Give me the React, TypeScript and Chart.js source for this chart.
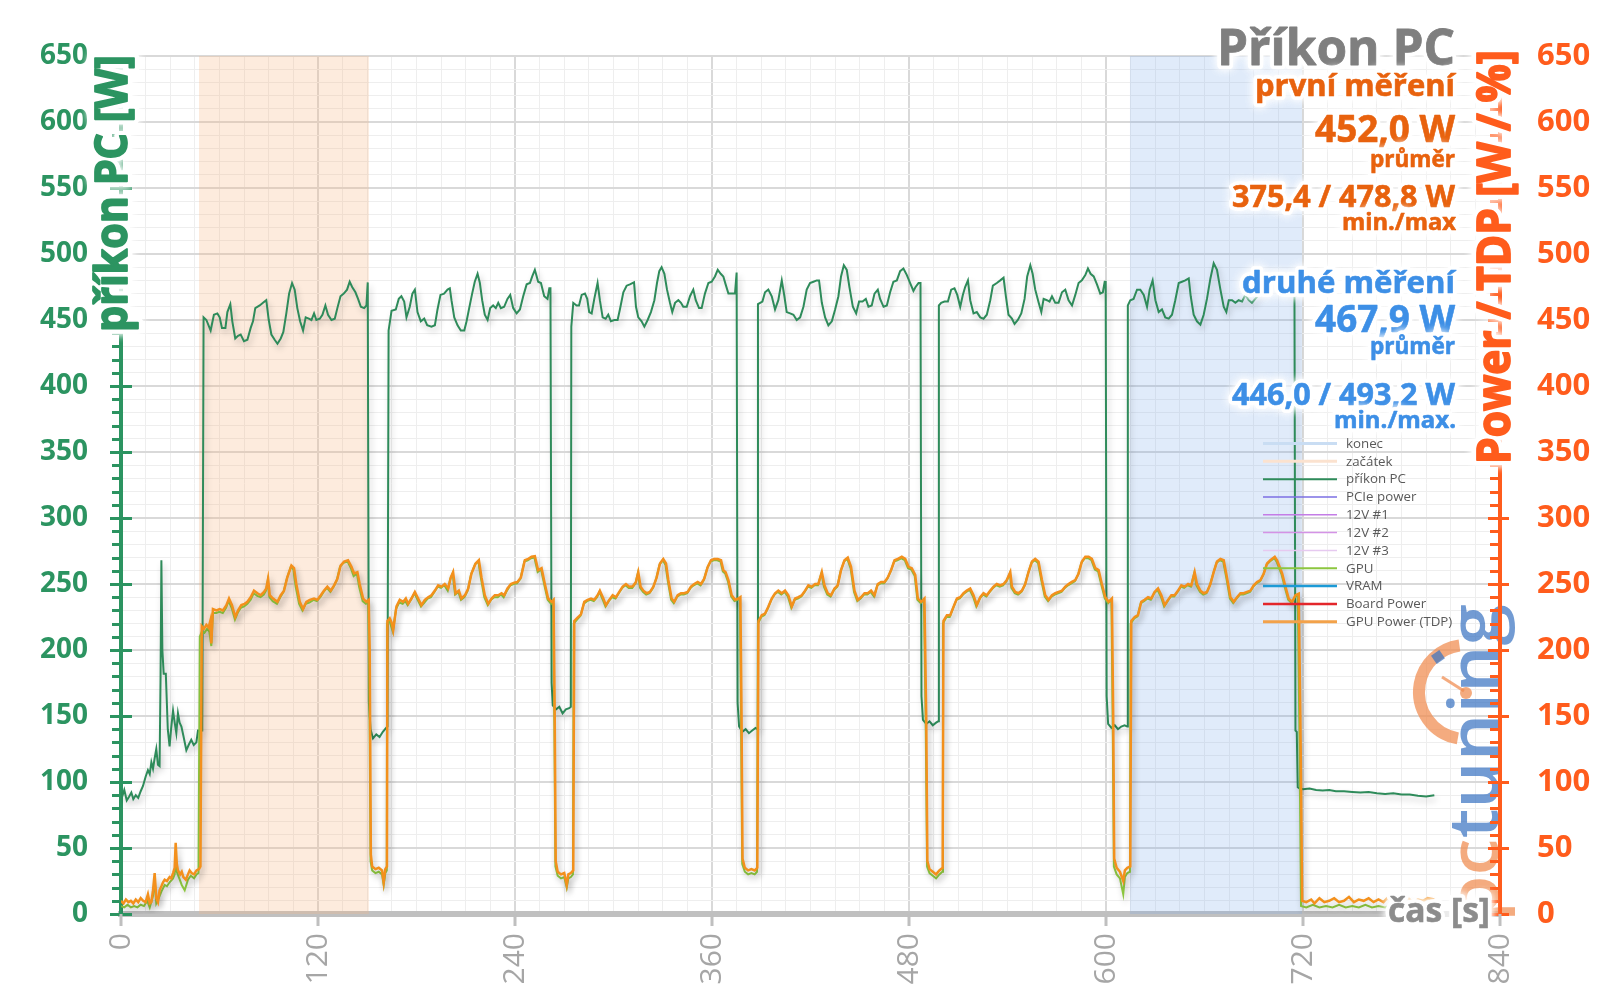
import React, { useEffect, useRef } from 'react';
import { Chart, registerables } from 'chart.js';

Chart.register(...registerables);

type Pt = [number, number];

const FONT = '"Open Sans", "Noto Sans", "DejaVu Sans", sans-serif';

// axis ranges / steps
const X_MIN = 0;
const X_MAX = 840;
const X_MAJOR = 120;
const X_MINOR = 15;
const Y_MIN = 0;
const Y_MAX = 650;
const Y_MAJOR = 50;
const Y_MINOR = 10;

// shaded measurement windows [time s, top]
const zacatek: Pt[] = [[47.5, 650], [151, 650]];
const konec: Pt[] = [[614.5, 650], [719.5, 650]];

// příkon PC [W] (time s, W)
const prikonPC: Pt[] = [
  [0, 92], [1, 90], [2, 94], [3.5, 86], [5, 89], [6.3, 92], [7.5, 87], [9, 90], [10.5, 88], [12, 93],
  [13.4, 97], [15, 104], [16.4, 109], [17.5, 106], [18.5, 115], [19.5, 110], [20.5, 118], [21.5, 125],
  [22.5, 113], [23.5, 112], [24.1, 180], [24.6, 268], [25.2, 200], [26, 182], [27.3, 182], [28.5, 140],
  [29.6, 127], [30.5, 140], [31.7, 154], [32.7, 145], [33.7, 137], [34.7, 152], [35.7, 145], [36.8, 142],
  [38, 135], [39.8, 124], [41.2, 128], [42.8, 132], [44.3, 128], [45.9, 130], [46.9, 139], [49.5, 139],
  [50.3, 452], [52, 450], [54.6, 442], [56.6, 454], [58.7, 455], [60.1, 452], [61.5, 444], [63.6, 444],
  [64.8, 456], [66.6, 462], [67.8, 449], [69.6, 436], [71.3, 438], [72.9, 439], [74.9, 434], [77, 435],
  [79, 444], [80.4, 449], [81.8, 459], [84.5, 461], [86.5, 463], [88.5, 465], [90, 450], [91.6, 439],
  [93.6, 435], [95.3, 432], [97.3, 436], [98.9, 441], [100.7, 455], [102.4, 470], [104.2, 478], [105.8, 473],
  [107.4, 459], [109.1, 449], [110.9, 442], [112.5, 452], [114.4, 451], [116, 450], [117.6, 455], [119, 450],
  [121.1, 451], [122.7, 454], [124.5, 461], [126.1, 454], [128.2, 450], [130.2, 451], [131.8, 459], [133.7, 468],
  [135.7, 470], [137.7, 473], [139.3, 479], [140.8, 475], [142.8, 471], [144.4, 466], [146.1, 460], [148.1, 459],
  [149.5, 461], [150.3, 478.5],
  [151, 160], [152, 140], [153.5, 133], [155.5, 136], [157.5, 134], [159.5, 138], [161.5, 141], [162.3, 142],
  [163, 442], [164.8, 457], [167.4, 458], [169.2, 466], [170.8, 468], [172.5, 464], [173.9, 452], [175.9, 460],
  [177.5, 470], [179, 473], [180.6, 456], [182.6, 449], [184.7, 451], [186.5, 446], [189.1, 445], [191.2, 446],
  [192.8, 458], [194.6, 469], [196.8, 470], [198.9, 473], [200.3, 474], [201.3, 465], [203, 452], [205, 446],
  [207, 442], [209.1, 442], [210.5, 449], [212.1, 459], [213.9, 470], [215.5, 479], [217.2, 485], [218.6, 478],
  [220, 465], [221.6, 454], [223.3, 450], [224.9, 459], [226.7, 461], [228.3, 459], [229.8, 463], [231.4, 459],
  [233.4, 460], [235.4, 466], [237.1, 469], [238.9, 459], [241, 455], [243, 458], [245, 468], [247.1, 477],
  [249.1, 478], [250.5, 483], [252.1, 488], [254.1, 479], [255.8, 478], [257.8, 468], [259.8, 466], [260.9, 474],
  [261.6, 474],
  [262.3, 175], [263, 158], [265, 155], [267, 157], [269, 152], [271, 155], [273, 156], [274, 157],
  [274.3, 445], [275.5, 463], [277.5, 461], [279, 461], [280.6, 469], [282.6, 470], [284, 466], [285.2, 456],
  [286.7, 455], [288.3, 466], [290.3, 478], [291.7, 465], [293.4, 452], [295.2, 451], [296.8, 454], [298.4, 449],
  [300.5, 450], [302.5, 450], [303.9, 458], [306, 471], [308, 476], [310, 477], [312.5, 478.5], [313.7, 460],
  [315.1, 452], [317.1, 449], [318.8, 445], [320.8, 450], [322.8, 456], [324.9, 465], [326.5, 478], [327.9, 487],
  [329.3, 490], [331, 485], [332.6, 473], [334.4, 463], [335.8, 456], [337.5, 463], [339.5, 465], [341.1, 463],
  [342.5, 460], [344.6, 460], [346.6, 468], [348.6, 473], [350.1, 465], [352.1, 459], [353.7, 459], [355.7, 470],
  [357.8, 478], [359.8, 479], [361.8, 483], [363.5, 488], [365.3, 485], [366.9, 483], [368.3, 477], [370, 470],
  [372, 470], [374, 470], [375, 486],
  [375.6, 160], [376.5, 142], [378.5, 138], [380.5, 140], [382.5, 137], [384.5, 139], [386.5, 141], [387.7, 140],
  [388, 462], [390.7, 464], [392.3, 471], [394.3, 473], [396.4, 468], [398.4, 458], [400.4, 465], [402.5, 480],
  [404.1, 468], [405.5, 456], [407.6, 455], [409.6, 454], [411.6, 450], [413.7, 452], [415.7, 460], [417.7, 473],
  [419.7, 478], [421.8, 479], [423.8, 480], [425.2, 480], [426.9, 463], [428.9, 452], [430.9, 446], [433, 449],
  [435, 458], [437, 468], [438.6, 483], [440.3, 491.5], [442.1, 488], [443.7, 475], [445.8, 460], [447.8, 455],
  [449.6, 464], [451.7, 464], [453.7, 466], [455.3, 460], [457.3, 461], [459, 470], [461, 473], [462.4, 466],
  [464.5, 460], [466.5, 461], [468.5, 471], [470.5, 479], [472.6, 480], [474.6, 487], [476.6, 489], [478.7, 484],
  [480.7, 478], [482.7, 472], [484, 475], [485.8, 478], [487, 478],
  [487.6, 165], [488.5, 147], [490.5, 144], [492.5, 146], [494.5, 143], [496.5, 145], [497.8, 146],
  [498.2, 461], [499.6, 463], [501.6, 464], [503.7, 464], [505.7, 473], [507.7, 474], [509.4, 469], [511.2, 460],
  [512.8, 469], [514.2, 475], [515.9, 480], [517.3, 465], [519.3, 455], [521.3, 456], [523.4, 452], [525.4, 451],
  [527.4, 454], [529.5, 465], [531.1, 476], [533.5, 478], [535.6, 480], [537.6, 482], [539, 468], [540.6, 454],
  [542.7, 451], [544.3, 447], [546.3, 450], [548.4, 455], [550.4, 466], [552, 483], [553.9, 491.5], [555.3, 485],
  [556.9, 473], [559, 463], [560.6, 456], [562, 466], [564, 465], [565.6, 464], [567.1, 468], [569.1, 463],
  [571.1, 463], [573.2, 471], [575.2, 473], [577.2, 465], [579.3, 461], [581.3, 469], [583.3, 478], [585.3, 480],
  [587.4, 484], [589, 489], [590.6, 485], [592.5, 483], [594.5, 477], [596.5, 470], [598.1, 471], [599.2, 479],
  [599.8, 479],
  [600.4, 165], [601.3, 144], [603.3, 141], [605.3, 143], [607.3, 140], [609.3, 142], [611.3, 143], [613, 142],
  [613.3, 461], [614.8, 465], [616.8, 466], [618.9, 473], [620.9, 473], [623, 469], [625, 460], [626.6, 473],
  [628.4, 480], [630.1, 465], [632.1, 456], [634.1, 458], [636.1, 452], [638.2, 451], [640.2, 454], [642.2, 465],
  [644.3, 478], [646.3, 479], [648.3, 480], [650.4, 481.5], [651.6, 468], [653.4, 454], [655.4, 449], [657.5, 446.5],
  [659.5, 454], [661.5, 466], [663.6, 481.5], [665.6, 493], [667.6, 488], [669.7, 473], [671.7, 460], [673.3, 456],
  [674.8, 465], [676.8, 465], [678.8, 463], [680.8, 465], [682.9, 464], [684.9, 469], [686.9, 465], [688.9, 463],
  [690.9, 466], [692.3, 468], [694, 474], [697, 479], [700, 483], [703, 484], [706, 479], [709, 474], [712, 471],
  [714.8, 470],
  [715.4, 139], [716.2, 138], [716.8, 96], [718, 95], [720, 94.5], [724, 95], [728, 94], [732, 93.5], [736, 94],
  [740, 93], [745, 93], [750, 92.5], [755, 92], [760, 92.5], [765, 91.5], [770, 91], [775, 91.5], [780, 90.5],
  [785, 90.5], [790, 89.5], [795, 89], [800, 90],
];

// GPU Power (TDP) [W] (time s, W)
const gpuPowerTDP: Pt[] = [
  [0, 10], [1.5, 8], [3, 11], [4.5, 9], [6, 10], [7.5, 8], [9, 11], [10.5, 9], [12, 12], [13.5, 10], [15, 9],
  [16.4, 15], [17.5, 8], [18.5, 9], [19.5, 18], [20.5, 31], [21.5, 12], [22.5, 9], [23.5, 18], [24.6, 21],
  [25.6, 24], [26.6, 26], [28, 25], [29.6, 28], [30.6, 27], [31.7, 31], [32.7, 35], [33.3, 54], [34, 38],
  [34.7, 33], [36, 30], [37, 32], [38, 28], [39.5, 26], [40.8, 30], [41.8, 33], [43, 31], [44.5, 30], [46, 33],
  [47.5, 34], [48.4, 36],
  [49.2, 218], [50.5, 216], [52, 219], [53.4, 217], [54.4, 222], [55, 205], [56, 231], [58.1, 230], [60.1, 231],
  [62.1, 230], [64.2, 234], [65.8, 239], [67.6, 234], [69.6, 225], [71.3, 230], [73.3, 234], [75.3, 235],
  [77, 236.5], [79, 240], [81, 245], [83.1, 243], [85.1, 241.5], [87.1, 244], [88.5, 246.6], [89.6, 254],
  [90.6, 241.5], [92.6, 239], [95.3, 236.5], [97.3, 241.5], [99.3, 245], [101.3, 255], [103.8, 264], [105.4, 262],
  [106.8, 250], [108.9, 236.5], [110.9, 231], [112.9, 236.5], [115, 238], [117.6, 239], [119.6, 238], [121.7, 241.5],
  [123.7, 245], [125.7, 248], [127.8, 245], [129.8, 249], [131.8, 254], [133.8, 264], [135.9, 267], [138.3, 268],
  [140.4, 263], [142, 258], [144, 259], [145.4, 250], [147.5, 239], [149.5, 236.5], [150.9, 238], [151.5, 200],
  [152.2, 45], [153, 36], [155, 34], [157, 35], [159, 33], [160, 24], [161, 34], [162, 36],
  [162.3, 222], [163.7, 224], [164.8, 221], [165.8, 215], [167.8, 233], [169.8, 238], [171.9, 236.5], [173.5, 239],
  [174.9, 235], [176.9, 239], [179, 244], [181, 239], [183, 234], [185.1, 238], [187.1, 240], [189.1, 241.5],
  [191.2, 245], [193.2, 249], [195.2, 248], [197.2, 250], [199.3, 246.6], [200.9, 255], [202.3, 259], [203.8, 243],
  [205.8, 245], [207.4, 239], [209.5, 241.5], [211.5, 246.6], [213.5, 258], [216, 265.5], [218, 268], [219.6, 255],
  [221.6, 241.5], [223.7, 235], [225.7, 239], [227.7, 241.5], [229.8, 241.5], [231.8, 243], [233.4, 241.5],
  [235.4, 246.6], [237.5, 250], [239.5, 251], [241.5, 251.6], [243.6, 255], [246, 268], [248.1, 269], [250.1, 270.6],
  [252.1, 271], [254.1, 260.5], [256.2, 262], [258.2, 250], [260.2, 239], [262.3, 236.5], [263.5, 238], [264.2, 150],
  [264.8, 40], [266, 32], [268, 30], [270, 31], [271.5, 22], [272.5, 30], [274, 31], [275.5, 33],
  [276.1, 222], [278.1, 224.6], [280.2, 227], [282.2, 236.5], [284.2, 238], [286.3, 239], [288.3, 238], [290.3, 241.5],
  [291.7, 245], [293.8, 239], [295.4, 234], [297.4, 238], [299.5, 241.5], [301.5, 240], [303.5, 244], [305.6, 248],
  [307.6, 250], [309.6, 248], [311.7, 248.3], [313.7, 251.6], [315.1, 259], [316.5, 248], [318.2, 245], [320.2, 243],
  [322.2, 244], [324.3, 248], [326.3, 255], [328.3, 265.5], [330.3, 269], [332, 265.5], [333.4, 253], [335.4, 239],
  [337, 236.5], [339.1, 241.5], [341.1, 243], [343.1, 243], [345.2, 244], [347.2, 248], [349.2, 250], [351.3, 251.6],
  [353.3, 250], [355.3, 254], [357.4, 263], [359.4, 268], [361.4, 269], [363.5, 269], [365.5, 268], [366.9, 260.5],
  [368.3, 259], [370, 253], [372, 241.5], [374, 238], [376.1, 239], [377.3, 240], [378, 150],
  [378.6, 42], [380, 35], [382, 33], [384, 34], [386, 33], [387.6, 35],
  [388.3, 222], [390.3, 226.4], [392.3, 227.6], [394.3, 232.7], [396.4, 239], [398.4, 243], [400.4, 245], [402.5, 243],
  [404.5, 245], [406.5, 241.5], [408.6, 233], [410.6, 239], [412.6, 240], [414.7, 241.5], [416.7, 245], [418.7, 249],
  [420.8, 248], [422.8, 250], [424.8, 250], [426.9, 259], [428.5, 249], [430.5, 243], [432.5, 241.5], [434.6, 246.6],
  [436.6, 249], [438.6, 260.5], [440.7, 268], [442.7, 270], [444.7, 263], [446.8, 245], [448.8, 238], [450.8, 240],
  [452.9, 243], [454.9, 243], [456.9, 245], [459, 241.5], [461, 250], [463, 251.6], [465.1, 251.6], [467.1, 255],
  [469.1, 260.5], [471.2, 268], [473.2, 269], [475.6, 270.6], [477.7, 269], [479.7, 263], [481.7, 262], [483.8, 257],
  [485.4, 239], [487.4, 236.5], [489.4, 239], [490.5, 150],
  [491.2, 40], [492.5, 34], [494.5, 32], [496.5, 30], [498.5, 33], [500.5, 35],
  [501, 222], [503.1, 226.4], [505.1, 226.4], [507.1, 232.7], [509.2, 239], [511.2, 240], [513.2, 243], [515.2, 245],
  [517.3, 246.6], [519.3, 241.5], [521.3, 234], [523.4, 240], [525.4, 243], [527.4, 241.5], [529.5, 245], [531.5, 248],
  [533.5, 250], [535.6, 249], [537.6, 250], [539.6, 253], [541.7, 259], [542.7, 248], [544.7, 244], [546.7, 243],
  [548.8, 245], [550.8, 250], [552.8, 259], [554.9, 267], [556.9, 269], [558.9, 267], [561, 253], [563, 241.5],
  [565, 238], [567.1, 241.5], [569.1, 243], [571.1, 244], [573.2, 245], [575.2, 248], [577.2, 250], [579.2, 251.6],
  [581.3, 253], [583.3, 258], [585.3, 267], [587.4, 270.6], [589.4, 270.6], [591.4, 269], [593.5, 262], [595.5, 260.5],
  [597.5, 250], [599.6, 240], [601.6, 236.5], [603.6, 239], [604.4, 150],
  [605, 42], [606.5, 35], [608.5, 32], [610.5, 25], [611.5, 33], [613, 35], [614.8, 36],
  [615.4, 222], [617.5, 225], [619.5, 226.4], [621.5, 236.5], [623.5, 238], [625.6, 240], [627.6, 239], [629.6, 244],
  [631.7, 246.6], [633.7, 241.5], [635.7, 234], [637.8, 238], [639.8, 241.5], [641.8, 241.5], [643.9, 245], [645.9, 249],
  [647.9, 248], [650, 250], [652, 249], [654, 259], [655.4, 250], [657.5, 245], [659.5, 243], [661.5, 244],
  [663.6, 250], [665.6, 259], [667.6, 267], [669.7, 269], [671.7, 268], [673.7, 255], [675.8, 240], [677.8, 236.5],
  [679.8, 240], [681.9, 243], [683.9, 243], [685.9, 244], [688, 245], [690, 249], [692, 251.6], [694.1, 253],
  [696.1, 258], [698.1, 265.5], [700.1, 268], [702.8, 270.6], [704.2, 268], [707.3, 258], [709.3, 248], [711.3, 239],
  [713.4, 236.4], [715.4, 241.5], [717.4, 242.7], [718.4, 150],
  [719.5, 10], [722, 9], [725, 11], [727, 8], [730, 12], [733, 9], [736, 10], [739, 12], [742, 9], [745, 10],
  [748, 13], [751, 9], [754, 11], [757, 10], [760, 12], [763, 9], [766, 11], [769, 9], [772, 13], [775, 10],
  [778, 9], [781, 11], [784, 12], [787, 9], [790, 11], [793, 10], [796, 12], [800, 11],
];

// GPU [W] (time s, W)
const gpuLine: Pt[] = [
  [0, 6], [2, 5], [4, 7], [6, 5], [8, 6], [10, 5], [12, 7], [14, 6], [16, 10], [17.5, 5], [19.5, 14], [20.5, 26],
  [21.5, 8], [23, 12], [24.6, 17], [26.6, 22], [28, 21], [29.6, 24], [31.7, 27], [32.7, 30], [33.3, 45], [34, 32],
  [35.5, 27], [37, 22], [38.8, 18], [40.8, 26], [42.5, 29], [44.5, 27], [46, 30], [47.2, 31],
  [48, 210], [49.2, 214], [50.8, 213], [52.4, 216], [53.8, 214], [55, 203], [56, 228], [58, 228], [60, 229], [62, 228],
  [64, 232], [65.5, 237], [67.4, 232], [69.4, 223], [71, 228], [73, 232], [75, 233], [77, 235], [79, 238], [80.8, 243],
  [83, 241], [85, 240], [87, 242], [88.3, 245], [89.3, 252], [90.4, 240], [92.4, 237], [95, 235], [97, 240], [99, 244],
  [101, 254], [103.4, 263], [105, 261], [106.4, 248], [108.5, 235], [110.5, 230], [112.5, 235], [114.7, 236],
  [117.3, 238], [119.3, 237], [121.4, 240], [123.4, 244], [125.4, 247], [127.5, 244], [129.5, 248], [131.5, 253],
  [133.4, 263], [135.5, 266], [138, 267], [140, 262], [141.7, 256], [143.7, 258], [145, 248], [147.2, 237],
  [149.2, 235], [150.6, 236], [151.2, 190],
  [152, 40], [153, 33], [155, 31], [157, 32], [159, 30], [160, 22], [161, 31], [161.9, 33],
  [162.1, 220], [163.5, 222], [165.6, 214], [167.5, 231], [169.5, 236], [171.6, 235], [173.2, 237], [174.6, 234],
  [176.6, 238], [178.7, 243], [180.7, 238], [182.7, 233], [184.8, 236], [186.8, 239], [188.8, 240], [190.9, 244],
  [192.9, 248], [194.9, 247], [196.9, 249], [199, 245], [200.6, 254], [202, 258], [203.5, 242], [205.5, 244],
  [207.1, 238], [209.2, 240], [211.2, 245], [213.2, 257], [215.7, 265], [217.7, 267], [219.3, 254], [221.3, 240],
  [223.4, 234], [225.4, 238], [227.4, 240], [229.5, 240], [231.5, 242], [233.1, 240], [235.1, 245], [237.2, 249],
  [239.2, 250], [241.2, 250.5], [243.3, 254], [245.7, 267], [247.8, 268], [249.8, 269.5], [251.8, 270], [253.8, 259],
  [255.9, 261], [257.9, 249], [259.9, 238], [262, 235], [263.2, 237], [264, 140],
  [264.6, 36], [266, 29], [268, 27], [270, 28], [271.5, 20], [272.5, 27], [274, 28], [275.3, 30],
  [275.8, 220], [277.8, 223], [279.9, 226], [281.9, 235], [283.9, 237], [286, 238], [288, 237], [290, 240],
  [291.4, 244], [293.5, 238], [295.1, 233], [297.1, 237], [299.2, 240], [301.2, 239], [303.2, 243], [305.3, 247],
  [307.3, 249], [309.3, 247], [311.4, 247], [313.4, 250.5], [314.8, 258], [316.2, 247], [317.9, 244], [319.9, 242],
  [321.9, 243], [324, 247], [326, 254], [328, 264.5], [330, 268], [331.7, 264.5], [333.1, 252], [335.1, 238],
  [336.7, 235.5], [338.8, 240.5], [340.8, 242], [342.8, 242], [344.9, 243], [346.9, 247], [348.9, 249], [351, 250.5],
  [353, 249], [355, 253], [357.1, 262], [359.1, 267], [361.1, 268], [363.2, 268], [365.2, 267], [366.6, 259.5],
  [368, 258], [369.7, 252], [371.7, 240.5], [373.7, 237], [375.8, 238], [377, 239], [377.7, 140],
  [378.4, 38], [380, 32], [382, 30], [384, 31], [386, 30], [387.4, 32],
  [388, 220], [390, 225], [392, 226.5], [394, 231.5], [396.1, 238], [398.1, 242], [400.1, 244], [402.2, 242],
  [404.2, 244], [406.2, 240.5], [408.3, 232], [410.3, 238], [412.3, 239], [414.4, 240.5], [416.4, 244], [418.4, 248],
  [420.5, 247], [422.5, 249], [424.5, 249], [426.6, 258], [428.2, 248], [430.2, 242], [432.2, 240.5], [434.3, 245.5],
  [436.3, 248], [438.3, 259.5], [440.4, 267], [442.4, 269], [444.4, 262], [446.5, 244], [448.5, 237], [450.5, 239],
  [452.6, 242], [454.6, 242], [456.6, 244], [458.7, 240.5], [460.7, 249], [462.7, 250.5], [464.8, 250.5], [466.8, 254],
  [468.8, 259.5], [470.9, 267], [472.9, 268], [475.3, 269.5], [477.4, 268], [479.4, 262], [481.4, 261], [483.5, 256],
  [485.1, 238], [487.1, 235.5], [489.1, 238], [490.2, 140],
  [491, 36], [492.5, 31], [494.5, 29], [496.5, 27], [498.5, 30], [500.3, 32],
  [500.7, 220], [502.8, 225], [504.8, 225], [506.8, 231.5], [508.9, 238], [510.9, 239], [512.9, 242], [514.9, 244],
  [517, 245.5], [519, 240.5], [521, 233], [523.1, 239], [525.1, 242], [527.1, 240.5], [529.2, 244], [531.2, 247],
  [533.2, 249], [535.3, 248], [537.3, 249], [539.3, 252], [541.4, 258], [542.4, 247], [544.4, 243], [546.4, 242],
  [548.5, 244], [550.5, 249], [552.5, 258], [554.6, 266], [556.6, 268], [558.6, 266], [560.7, 252], [562.7, 240.5],
  [564.7, 237], [566.8, 240.5], [568.8, 242], [570.8, 243], [572.9, 244], [574.9, 247], [576.9, 249], [578.9, 250.5],
  [581, 252], [583, 257], [585, 266], [587.1, 269.5], [589.1, 269.5], [591.1, 268], [593.2, 261], [595.2, 259.5],
  [597.2, 249], [599.3, 239], [601.3, 235.5], [603.3, 238], [604.1, 140],
  [604.8, 36], [606.5, 30], [608.5, 27], [610.5, 15], [611.5, 28], [613, 31], [614.6, 32],
  [615, 220], [617.2, 224], [619.2, 225.5], [621.2, 235.5], [623.2, 237], [625.3, 239], [627.3, 238], [629.3, 243],
  [631.4, 245.5], [633.4, 240.5], [635.4, 233], [637.5, 237], [639.5, 240.5], [641.5, 240.5], [643.6, 244], [645.6, 248],
  [647.6, 247], [649.7, 249], [651.7, 248], [653.7, 258], [655.1, 249], [657.2, 244], [659.2, 242], [661.2, 243],
  [663.3, 249], [665.3, 258], [667.3, 266], [669.4, 268], [671.4, 267], [673.4, 254], [675.5, 239], [677.5, 235.5],
  [679.5, 239], [681.6, 242], [683.6, 242], [685.6, 243], [687.7, 244], [689.7, 248], [691.7, 250.5], [693.8, 252],
  [695.8, 257], [697.8, 264.5], [699.8, 267], [702.5, 269.5], [703.9, 267], [707, 257], [709, 247], [711, 238],
  [713.1, 235.5], [715.1, 240.5], [716.8, 241], [717.8, 140],
  [718.8, 6], [722, 5], [726, 7], [730, 5], [734, 6], [738, 5], [742, 7], [746, 5], [750, 6], [754, 5], [758, 7],
  [762, 5], [766, 6], [770, 5], [774, 7], [778, 5], [782, 6], [786, 5], [790, 7], [794, 5], [800, 6],
];

const emptySeries: Pt[] = [];

// texts
const chartTitle = 'Příkon PC';
const firstMeasurement = ['první měření', '452,0 W', 'průměr', '375,4 / 478,8 W', 'min./max'];
const secondMeasurement = ['druhé měření', '467,9 W', 'průměr', '446,0 / 493,2 W', 'min./max.'];
const leftAxisTitle = 'příkon PC [W]';
const rightAxisTitle = 'Power / TDP [W / %]';
const xAxisTitle = 'čas [s]';

const GREEN = '#2e8b5a';
const GREEN_AXIS = '#2c9461';
const ORANGE_TEXT = '#e8620e';
const RIGHT_AXIS = '#ff5c1c';
const BLUE_TEXT = '#3d8fe6';

const toXY = (a: Pt[]) => a.map(([x, y]) => ({ x, y }));

function fitFont(ctx: CanvasRenderingContext2D, text: string, weight: string, targetW: number) {
  ctx.font = `${weight} 100px ${FONT}`;
  const w = ctx.measureText(text).width || 1;
  const size = (100 * targetW) / w;
  return `${weight} ${size.toFixed(2)}px ${FONT}`;
}

function glowText(
  ctx: CanvasRenderingContext2D,
  text: string,
  x: number,
  y: number,
  targetW: number,
  color: string,
  align: CanvasTextAlign = 'right',
  weight = 'bold',
  glow = 7,
  embolden = 0,
) {
  ctx.save();
  ctx.font = fitFont(ctx, text, weight, targetW);
  ctx.textAlign = align;
  ctx.textBaseline = 'alphabetic';
  ctx.lineJoin = 'round';
  if (glow > 0) {
    ctx.strokeStyle = 'rgba(255,255,255,0.95)';
    ctx.lineWidth = glow + embolden;
    ctx.shadowColor = 'rgba(255,255,255,1)';
    ctx.shadowBlur = 8;
    ctx.strokeText(text, x, y);
    ctx.strokeText(text, x, y);
  }
  ctx.shadowBlur = 0;
  ctx.shadowColor = 'transparent';
  ctx.fillStyle = color;
  ctx.fillText(text, x, y);
  if (embolden > 0) {
    ctx.strokeStyle = color;
    ctx.lineWidth = embolden;
    ctx.strokeText(text, x, y);
  }
  ctx.restore();
}

function rotatedText(
  ctx: CanvasRenderingContext2D,
  text: string,
  baseX: number,
  startY: number,
  len: number,
  color: string,
  thick = 1,
) {
  ctx.save();
  ctx.translate(baseX, startY);
  ctx.rotate(-Math.PI / 2);
  ctx.scale(1, thick);
  glowText(ctx, text, 0, 0, len, color, 'left', 'bold', 8, 1.6);
  ctx.restore();
}

const shadowPlugin = {
  id: 'lineShadow',
  beforeDatasetDraw(chart: any, args: any) {
    const ds = chart.data.datasets[args.index];
    if (!ds.shadow) return;
    const ctx = chart.ctx;
    ctx.save();
    ctx.shadowColor = 'rgba(0,0,0,0.22)';
    ctx.shadowBlur = 6;
    ctx.shadowOffsetX = 2;
    ctx.shadowOffsetY = 4;
  },
  afterDatasetDraw(chart: any, args: any) {
    const ds = chart.data.datasets[args.index];
    if (!ds.shadow) return;
    chart.ctx.restore();
  },
};

const overlayPlugin = {
  id: 'overlay',
  afterDraw(chart: any) {
    const ctx: CanvasRenderingContext2D = chart.ctx;
    const { left: L, right: R, top: T, bottom: B } = chart.chartArea;
    const ya = chart.scales.y;
    const xa = chart.scales.x;

    // logo (pctuning)
    ctx.save();
    ctx.globalAlpha = 0.72;
    const cx = 1466;
    const cy = 692;
    ctx.strokeStyle = '#f08a4e';
    ctx.lineWidth = 12;
    ctx.beginPath();
    ctx.arc(cx, cy, 47, (100 * Math.PI) / 180, (262 * Math.PI) / 180);
    ctx.stroke();
    ctx.fillStyle = '#3b74c2';
    ctx.save();
    ctx.translate(1438, 657);
    ctx.rotate(-0.6);
    ctx.fillRect(-5, -5, 10, 10);
    ctx.restore();
    ctx.strokeStyle = '#f08a4e';
    ctx.lineWidth = 3;
    ctx.beginPath();
    ctx.moveTo(1442, 677);
    ctx.lineTo(1464, 691);
    ctx.stroke();
    ctx.fillStyle = '#f08a4e';
    ctx.beginPath();
    ctx.arc(1466, 693, 6, 0, Math.PI * 2);
    ctx.fill();
    ctx.translate(1498, 922);
    ctx.rotate(-Math.PI / 2);
    ctx.font = `600 68px ${FONT}`;
    const wPc = ctx.measureText('pc').width;
    const wAll = ctx.measureText('pctuning').width;
    const sx = 318 / wAll;
    ctx.scale(sx, 1);
    ctx.textBaseline = 'alphabetic';
    ctx.fillStyle = '#f08a4e';
    ctx.fillText('pc', 0, 0);
    ctx.fillStyle = '#3b74c2';
    ctx.fillText('tuning', wPc, 0);
    ctx.restore();

    // axis tick marks
    ctx.save();
    ctx.strokeStyle = RIGHT_AXIS;
    ctx.lineWidth = 4;
    ctx.beginPath();
    ctx.moveTo(R, T);
    ctx.lineTo(R, B);
    ctx.stroke();
    ctx.lineWidth = 3;
    for (let v = Y_MIN; v <= Y_MAX; v += Y_MINOR) {
      const py = Math.round(ya.getPixelForValue(v)) + 0.5;
      const major = v % Y_MAJOR === 0;
      ctx.strokeStyle = GREEN_AXIS;
      ctx.beginPath();
      ctx.moveTo(major ? L - 11 : L - 9, py);
      ctx.lineTo(major ? L + 11 : L, py);
      ctx.stroke();
      ctx.strokeStyle = RIGHT_AXIS;
      ctx.beginPath();
      ctx.moveTo(major ? R - 12 : R - 10, py);
      ctx.lineTo(major ? R + 9 : R, py);
      ctx.stroke();
    }
    ctx.strokeStyle = '#bfbfbf';
    for (let v = X_MIN; v <= X_MAX; v += X_MAJOR) {
      const px = Math.round(xa.getPixelForValue(v));
      ctx.beginPath();
      ctx.moveTo(px, B);
      ctx.lineTo(px, B + 12);
      ctx.stroke();
    }
    ctx.restore();

    // legend
    ctx.save();
    ctx.font = `13.3px ${FONT}`;
    ctx.textBaseline = 'middle';
    ctx.textAlign = 'left';
    chart.data.datasets.forEach((ds: any, i: number) => {
      const y = 443.5 + i * 17.82;
      ctx.strokeStyle = ds.legendColor || ds.borderColor;
      ctx.lineWidth = ds.legendWidth || ds.borderWidth || 2;
      ctx.beginPath();
      ctx.moveTo(1263, y);
      ctx.lineTo(1337, y);
      ctx.stroke();
      ctx.fillStyle = '#595959';
      ctx.fillText(ds.label, 1346, y + 0.5);
    });
    ctx.restore();

    // text block
    glowText(ctx, chartTitle, 1455, 65, 238, '#7f7f7f', 'right', 'bold', 7, 0.8);
    const fBase = [96, 142, 167, 207, 230];
    const fW = [200, 140, 85, 223, 114];
    firstMeasurement.forEach((t, i) =>
      glowText(ctx, t, i === 4 ? 1456 : 1455, fBase[i], fW[i], ORANGE_TEXT, 'right', 'bold', 7, 0.6));
    const sBase = [293, 332, 354, 405, 428];
    const sW = [213, 140, 85, 223, 122];
    secondMeasurement.forEach((t, i) =>
      glowText(ctx, t, i === 4 ? 1456 : 1455, sBase[i], sW[i], BLUE_TEXT, 'right', 'bold', 7, 0.6));

    // axis titles
    rotatedText(ctx, leftAxisTitle, 127, 332, 277, GREEN_AXIS, 1.08);
    rotatedText(ctx, rightAxisTitle, 1510, 464, 414, RIGHT_AXIS, 1.1);
    glowText(ctx, xAxisTitle, 1490, 922, 102, '#8c8c8c', 'right', 'bold', 7, 0.6);
  },
};

export default function App() {
  const canvasRef = useRef<HTMLCanvasElement | null>(null);

  useEffect(() => {
    document.body.style.margin = '0';
    const canvas = canvasRef.current;
    if (!canvas) return;

    const datasets: any[] = [
      {
        label: 'konec', data: toXY(konec), fill: 'origin', backgroundColor: 'rgba(120,170,235,0.23)',
        borderWidth: 0, borderColor: 'rgba(0,0,0,0)', legendColor: '#c9ddf3', legendWidth: 3, order: 10,
      },
      {
        label: 'začátek', data: toXY(zacatek), fill: 'origin', backgroundColor: 'rgba(248,180,130,0.27)',
        borderWidth: 0, borderColor: 'rgba(0,0,0,0)', legendColor: '#fbe2cf', legendWidth: 3, order: 10,
      },
      { label: 'příkon PC', data: toXY(prikonPC), borderColor: GREEN, borderWidth: 2, order: 3, shadow: true },
      { label: 'PCIe power', data: toXY(emptySeries), borderColor: '#7b6fe3', borderWidth: 1.5, order: 4 },
      { label: '12V #1', data: toXY(emptySeries), borderColor: '#c47de6', borderWidth: 1.5, order: 4 },
      { label: '12V #2', data: toXY(emptySeries), borderColor: '#d493e6', borderWidth: 1.5, order: 4 },
      { label: '12V #3', data: toXY(emptySeries), borderColor: '#e6c9f0', borderWidth: 1.5, order: 4 },
      { label: 'GPU', data: toXY(gpuLine), borderColor: '#8cc63f', borderWidth: 2, order: 2, shadow: true, legendWidth: 2 },
      { label: 'VRAM', data: toXY(emptySeries), borderColor: '#1c9ad6', borderWidth: 2.5, order: 4 },
      { label: 'Board Power', data: toXY(emptySeries), borderColor: '#e3262b', borderWidth: 2.5, order: 4 },
      {
        label: 'GPU Power (TDP)', data: toXY(gpuPowerTDP), borderColor: '#f3901c', borderWidth: 2.5, order: 1,
        shadow: true, legendColor: '#f3a24a', legendWidth: 3,
      },
    ];

    const chart = new Chart(canvas, {
      type: 'line',
      data: { datasets },
      options: {
        animation: false,
        responsive: false,
        maintainAspectRatio: false,
        devicePixelRatio: 1,
        layout: { padding: { top: 56, left: 0, right: 0, bottom: 0 } },
        elements: { point: { radius: 0 }, line: { tension: 0 } },
        plugins: { legend: { display: false }, tooltip: { enabled: false }, title: { display: false } },
        scales: {
          x: {
            type: 'linear',
            min: X_MIN,
            max: X_MAX,
            afterFit: (s: any) => { s.height = 94; },
            ticks: {
              stepSize: X_MINOR,
              autoSkip: false,
              minRotation: 90,
              maxRotation: 90,
              padding: 19,
              color: '#a6a6a6',
              font: { family: FONT, size: 30, weight: 'normal' },
              callback: (v: any) => (Number(v) % X_MAJOR === 0 ? String(v) : ''),
            },
            grid: {
              drawTicks: false,
              color: (c: any) => (c.tick && c.tick.value % X_MAJOR === 0 ? '#d9d9d9' : '#eeeeee'),
              lineWidth: (c: any) => (c.tick && c.tick.value % X_MAJOR === 0 ? 2 : 1),
            },
            border: { color: '#c0c0c0', width: 6 },
          },
          y: {
            position: 'left',
            min: Y_MIN,
            max: Y_MAX,
            afterFit: (s: any) => { s.width = 121; },
            ticks: {
              stepSize: Y_MINOR,
              autoSkip: false,
              padding: 33,
              color: GREEN_AXIS,
              font: { family: FONT, size: 28, weight: 'bold' },
              callback: (v: any) => (Number(v) % Y_MAJOR === 0 ? String(v) : ''),
            },
            grid: {
              drawTicks: false,
              color: (c: any) => (c.tick && c.tick.value % Y_MAJOR === 0 ? '#d9d9d9' : '#eeeeee'),
              lineWidth: (c: any) => (c.tick && c.tick.value % Y_MAJOR === 0 ? 2 : 1),
            },
            border: { color: GREEN_AXIS, width: 4 },
          },
          y2: {
            position: 'right',
            min: Y_MIN,
            max: Y_MAX,
            afterFit: (s: any) => { s.width = 100; },
            ticks: {
              stepSize: Y_MINOR,
              autoSkip: false,
              padding: 37,
              color: RIGHT_AXIS,
              font: { family: FONT, size: 31, weight: 'bold' },
              callback: (v: any) => (Number(v) % Y_MAJOR === 0 ? String(v) : ''),
            },
            grid: { display: false, drawTicks: false },
            border: { color: RIGHT_AXIS, width: 4 },
          },
        },
      },
      plugins: [shadowPlugin, overlayPlugin],
    } as any);

    return () => chart.destroy();
  }, []);

  return (
    <div style={{ width: 1600, height: 1008, position: 'relative', background: '#ffffff' }}>
      <canvas ref={canvasRef} width={1600} height={1008} style={{ width: 1600, height: 1008, display: 'block' }} />
    </div>
  );
}
